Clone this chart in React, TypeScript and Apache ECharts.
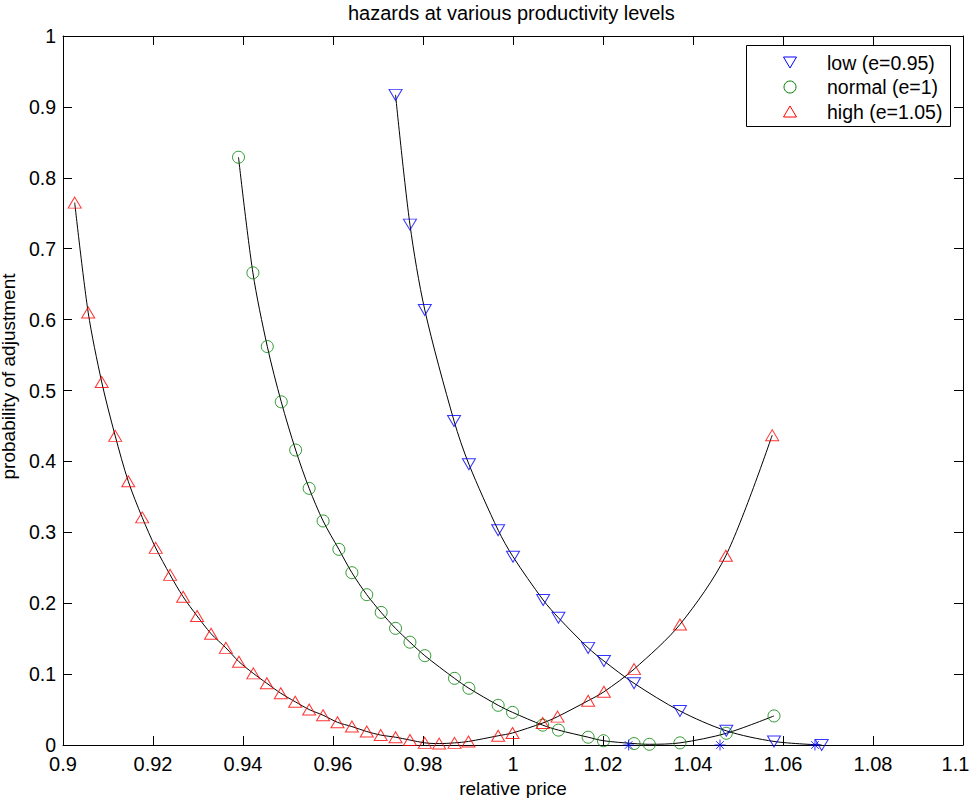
import React, { useEffect, useRef } from "react";
import * as echarts from "echarts";

const titleText = "hazards at various productivity levels";
const xAxisName = "relative price";
const yAxisName = "probability of adjustment";
const legendNames = ["low (e=0.95)", "normal (e=1)", "high (e=1.05)"];
const legendColors = ["#0000ff", "#008000", "#ff0000"];

// low productivity (e=0.95)
const lowX = [0.9739, 0.9771, 0.9804, 0.9869, 0.9902, 0.9967, 1.0, 1.0067, 1.0101, 1.0167, 1.0202, 1.0269, 1.0371, 1.0474, 1.058, 1.0686];
const lowY = [0.917, 0.734, 0.6135, 0.457, 0.396, 0.303, 0.2656, 0.2045, 0.1795, 0.137, 0.1185, 0.087, 0.048, 0.02, 0.005, 0.0];

// normal productivity (e=1)
const normalX = [0.939, 0.9422, 0.9454, 0.9485, 0.9517, 0.9547, 0.9578, 0.9613, 0.9642, 0.9675, 0.9707, 0.9739, 0.9771, 0.9804, 0.987, 0.9902, 0.9967, 0.9999, 1.0066, 1.0101, 1.0167, 1.0201, 1.0269, 1.0303, 1.0371, 1.0474, 1.058];
const normalY = [0.829, 0.666, 0.562, 0.484, 0.416, 0.362, 0.316, 0.276, 0.243, 0.212, 0.187, 0.1645, 0.145, 0.126, 0.094, 0.08, 0.056, 0.046, 0.028, 0.021, 0.011, 0.006, 0.002, 0.001, 0.003, 0.0165, 0.041];

// high productivity (e=1.05)
const highX = [0.9026, 0.9056, 0.9086, 0.9116, 0.9145, 0.9176, 0.9206, 0.9238, 0.9267, 0.9298, 0.9329, 0.9362, 0.9391, 0.9423, 0.9453, 0.9484, 0.9516, 0.9547, 0.9578, 0.961, 0.9642, 0.9675, 0.9706, 0.9739, 0.9771, 0.9804, 0.9836, 0.987, 0.9901, 0.9967, 0.9999, 1.0066, 1.0099, 1.0167, 1.0202, 1.0269, 1.0371, 1.0473, 1.0576];
const highY = [0.765, 0.61, 0.512, 0.436, 0.372, 0.321, 0.278, 0.24, 0.209, 0.182, 0.157, 0.137, 0.1175, 0.101, 0.087, 0.073, 0.061, 0.05, 0.042, 0.032, 0.026, 0.019, 0.014, 0.011, 0.007, 0.003, 0.002, 0.003, 0.005, 0.013, 0.017, 0.031, 0.04, 0.0625, 0.075, 0.107, 0.17, 0.267, 0.437];

// zero-hazard points (asterisks, low)
const zeroX = [1.0257, 1.046, 1.0671];
const zeroY = [0, 0, 0];

const FONT = "'Liberation Sans', Arial, Helvetica, sans-serif";
const DOWN_TRI = "path://M0,0L12,0L6,10.4Z";
const UP_TRI = "path://M6,0L12,10.4L0,10.4Z";
const ASTERISK = "path://M5,0L5,10M0,5L10,5M1.5,1.5L8.5,8.5M8.5,1.5L1.5,8.5";

const pairs = (xs: number[], ys: number[]) => xs.map((x, i) => [x, ys[i]]);
const fmt = (v: number) => String(parseFloat(v.toFixed(4)));

function legendGraphics() {
  const boxX = 746.5, boxY = 45.5, boxW = 204, boxH = 81;
  const iconX = 790, textX = 827;
  const rows = [62.5, 87, 111.5];
  const els: any[] = [
    {
      type: "rect",
      shape: { x: boxX, y: boxY, width: boxW, height: boxH },
      style: { fill: "#fff", stroke: "#000", lineWidth: 1 },
      z: 100,
    },
  ];
  const iconStyle = (c: string) => ({ fill: "none", stroke: c, lineWidth: 1 });
  els.push({
    type: "polygon",
    shape: { points: [[iconX - 6.5, rows[0] - 5.5], [iconX + 6.5, rows[0] - 5.5], [iconX, rows[0] + 5.5]] },
    style: iconStyle(legendColors[0]),
    z: 101,
  });
  els.push({
    type: "circle",
    shape: { cx: iconX, cy: rows[1], r: 6 },
    style: iconStyle(legendColors[1]),
    z: 101,
  });
  els.push({
    type: "polygon",
    shape: { points: [[iconX, rows[2] - 5.5], [iconX + 6.5, rows[2] + 5.5], [iconX - 6.5, rows[2] + 5.5]] },
    style: iconStyle(legendColors[2]),
    z: 101,
  });
  legendNames.forEach((n, i) => {
    els.push({
      type: "text",
      x: textX,
      y: rows[i],
      style: { text: n, fill: "#000", font: `19.5px ${FONT}`, textAlign: "left", textVerticalAlign: "middle" },
      z: 101,
    });
  });
  return els;
}

export default function App() {
  const ref = useRef<HTMLDivElement>(null);
  useEffect(() => {
    if (!ref.current) return;
    const chart = echarts.init(ref.current, undefined, { renderer: "svg" });
    const axisCommon = {
      type: "value" as const,
      axisLine: { show: true, onZero: false, lineStyle: { color: "#000", width: 1 } },
      axisTick: { show: true, inside: true, length: 9, lineStyle: { color: "#000", width: 1 } },
      splitLine: { show: false },
    };
    const curve = (xs: number[], ys: number[], name: string) => ({
      type: "line",
      name,
      data: pairs(xs, ys),
      smooth: 0.3,
      showSymbol: false,
      symbol: "none",
      silent: true,
      lineStyle: { color: "#000", width: 1 },
      itemStyle: { color: "#000" },
      z: 2,
    });
    const marks = (xs: number[], ys: number[], name: string, symbol: string, size: any, color: string) => ({
      type: "scatter",
      name,
      data: pairs(xs, ys),
      symbol,
      symbolSize: size,
      itemStyle: { color: "rgba(0,0,0,0)", borderColor: color, borderWidth: 1 },
      z: 3,
    });
    const xFmt = (v: number) => (Math.abs(v - 1.1) < 1e-9 ? `{m|${fmt(v)}}` : fmt(v));
    chart.setOption({
      animation: false,
      backgroundColor: "#fff",
      title: {
        text: titleText,
        left: 348,
        top: 3,
        padding: 0,
        textStyle: { fontFamily: FONT, fontSize: 20, fontWeight: "normal", color: "#000" },
      },
      grid: { left: 63, right: 8, top: 36, bottom: 53, containLabel: false, outerBoundsMode: "none" },
      xAxis: [
        {
          ...axisCommon,
          position: "bottom",
          min: 0.9,
          max: 1.1,
          interval: 0.02,
          axisLabel: {
            margin: 9,
            fontFamily: FONT,
            fontSize: 20,
            color: "#000",
            formatter: xFmt,
            rich: { m: { fontFamily: FONT, fontSize: 20, color: "#000", padding: [0, 15, 0, 0] } },
          },
          name: xAxisName,
          nameLocation: "middle",
          nameGap: 32,
          nameTextStyle: { fontFamily: FONT, fontSize: 19, color: "#000" },
        },
        {
          ...axisCommon,
          position: "top",
          min: 0.9,
          max: 1.1,
          interval: 0.02,
          axisLabel: { show: false },
        },
      ],
      yAxis: [
        {
          ...axisCommon,
          position: "left",
          min: 0,
          max: 1,
          interval: 0.1,
          axisLabel: { margin: 7, fontFamily: FONT, fontSize: 19.5, color: "#000", formatter: fmt },
          name: yAxisName,
          nameLocation: "middle",
          nameGap: 35,
          nameTextStyle: { fontFamily: FONT, fontSize: 19, color: "#000", padding: [0, 0, 0, 28] },
        },
        {
          ...axisCommon,
          position: "right",
          min: 0,
          max: 1,
          interval: 0.1,
          axisLabel: { show: false },
        },
      ],
      graphic: legendGraphics(),
      series: [
        curve(lowX, lowY, "low curve"),
        curve(normalX, normalY, "normal curve"),
        curve(highX, highY, "high curve"),
        marks(lowX, lowY, legendNames[0], DOWN_TRI, [13, 11], legendColors[0]),
        marks(normalX, normalY, legendNames[1], "circle", 12, legendColors[1]),
        marks(highX, highY, legendNames[2], UP_TRI, [13, 11], legendColors[2]),
        marks(zeroX, zeroY, "low zero", ASTERISK, 11, legendColors[0]),
      ],
    });
    return () => chart.dispose();
  }, []);
  return (
    <div
      ref={ref}
      style={{ position: "fixed", left: 0, top: 0, width: 971, height: 798, background: "#fff" }}
    />
  );
}
